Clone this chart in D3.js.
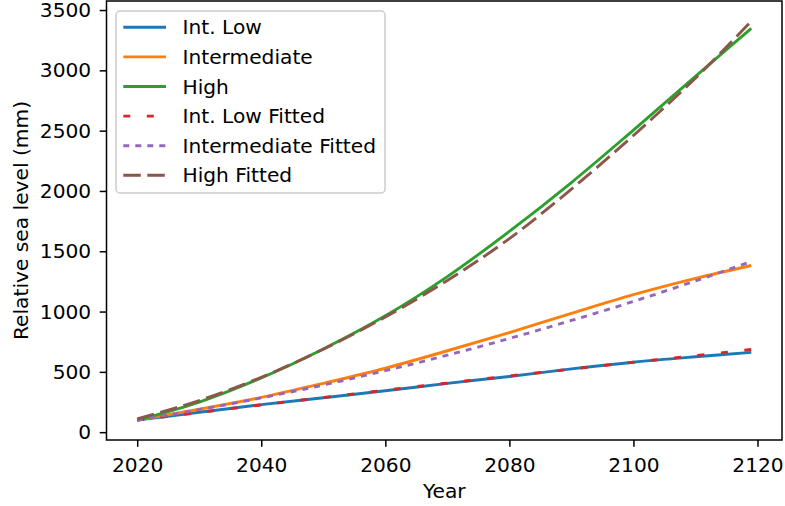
<!doctype html>
<head>
  <script src="https://cdn.jsdelivr.net/npm/d3@7"></script>
</head>

<style type="text/css">
  body { margin: 0; background: #fff; }
  svg text { font-family: 'DejaVu Sans', sans-serif; fill: #000; }
  .tick text { font-size: 20.2px; }
  .tick line { stroke: #000; }
</style>

<body>
<svg width="785" height="506"></svg>
<script>
// data
var years = [2020, 2030, 2040, 2050, 2060, 2070, 2080, 2090, 2100, 2110, 2119];

var intLow        = [100, 165, 228, 285, 343, 405, 462, 525, 580, 625, 662];
var intermediate  = [100, 190, 288, 405, 530, 675, 825, 985, 1140, 1275, 1382];
var high          = [100, 250, 450, 690, 965, 1290, 1665, 2070, 2505, 2950, 3348];
var intLowFit     = [100, 163, 226, 287, 348, 407, 466, 523, 580, 635, 685];
var interFit      = [100, 187, 284, 391, 510, 638, 777, 926, 1084, 1254, 1416];
var highFit       = [110, 262, 455, 688, 955, 1258, 1605, 2015, 2460, 2935, 3408];

var seriesNames = ["Int. Low", "Intermediate", "High",
                   "Int. Low Fitted", "Intermediate Fitted", "High Fitted"];
var seriesValues = [intLow, intermediate, high, intLowFit, interFit, highFit];

var xTicks = [2020, 2040, 2060, 2080, 2100, 2120];
var yTicks = [0, 500, 1000, 1500, 2000, 2500, 3000, 3500];

// styles
var colors = ["#1f77b4", "#ff7f0e", "#2ca02c", "#d62728", "#9467bd", "#8c564b"];
var dashes = [null, null, null, "7,16.5", "6,6", "17.5,6.5"];
var lw = 2.9;
var fs = "20.2px";

// plot box (window.top is taken, so no plain "top")
var pLeft = 106.5, pRight = 782, pTop = 1, pBottom = 440;

var svg = d3.select("svg");

var x = d3.scaleLinear().domain([2015.05, 2123.95]).range([pLeft, pRight]);
var y = d3.scaleLinear().domain([-65, 3575]).range([pBottom, pTop]);

var line = d3.line()
  .x(function(d){ return x(d[0]); })
  .y(function(d){ return y(d[1]); })
  .curve(d3.curveCatmullRom.alpha(0.5));

var plot = svg.append("g");

seriesValues.forEach(function(vals, i){
  plot.append("path")
    .datum(years.map(function(yr, j){ return [yr, vals[j]]; }))
    .attr("d", line)
    .style("fill", "none")
    .style("stroke", colors[i])
    .style("stroke-width", lw)
    .style("stroke-dasharray", dashes[i]);
});

// axes
svg.append("g")
  .attr("transform", "translate(0," + pBottom + ")")
  .call(d3.axisBottom(x).tickValues(xTicks).tickFormat(d3.format("d"))
        .tickSize(6.8).tickSizeOuter(0).tickPadding(11));

svg.append("g")
  .attr("transform", "translate(" + pLeft + ",0)")
  .call(d3.axisLeft(y).tickValues(yTicks).tickFormat(d3.format("d"))
        .tickSize(6.8).tickSizeOuter(0).tickPadding(8.5));

svg.selectAll(".domain").remove();
svg.selectAll(".tick line").style("stroke-width", 1.5);

// frame
svg.append("rect")
  .attr("x", pLeft).attr("y", pTop)
  .attr("width", pRight - pLeft).attr("height", pBottom - pTop)
  .style("fill", "none")
  .style("stroke", "#000")
  .style("stroke-width", 1.5);

// axis labels
svg.append("text")
  .attr("x", (pLeft + pRight) / 2).attr("y", 498)
  .attr("text-anchor", "middle")
  .style("font-size", fs)
  .text("Year");

svg.append("text")
  .attr("transform", "translate(28," + ((pTop + pBottom) / 2) + ") rotate(-90)")
  .attr("text-anchor", "middle")
  .style("font-size", fs)
  .text("Relative sea level (mm)");

// legend
var lg = svg.append("g").attr("transform", "translate(116,11)");

lg.append("rect")
  .attr("width", 269).attr("height", 182)
  .attr("rx", 4).attr("ry", 4)
  .style("fill", "#fff").style("fill-opacity", 0.8)
  .style("stroke", "#cccccc").style("stroke-width", 1.5);

seriesNames.forEach(function(name, i){
  var ry = 16.3 + i * 29.6;
  lg.append("line")
    .attr("x1", 7.3).attr("x2", 50)
    .attr("y1", ry).attr("y2", ry)
    .style("stroke", colors[i])
    .style("stroke-width", lw)
    .style("stroke-dasharray", dashes[i]);
  lg.append("text")
    .attr("x", 66.5).attr("y", ry + 7)
    .style("font-size", fs)
    .text(name);
});
</script>
</body>
